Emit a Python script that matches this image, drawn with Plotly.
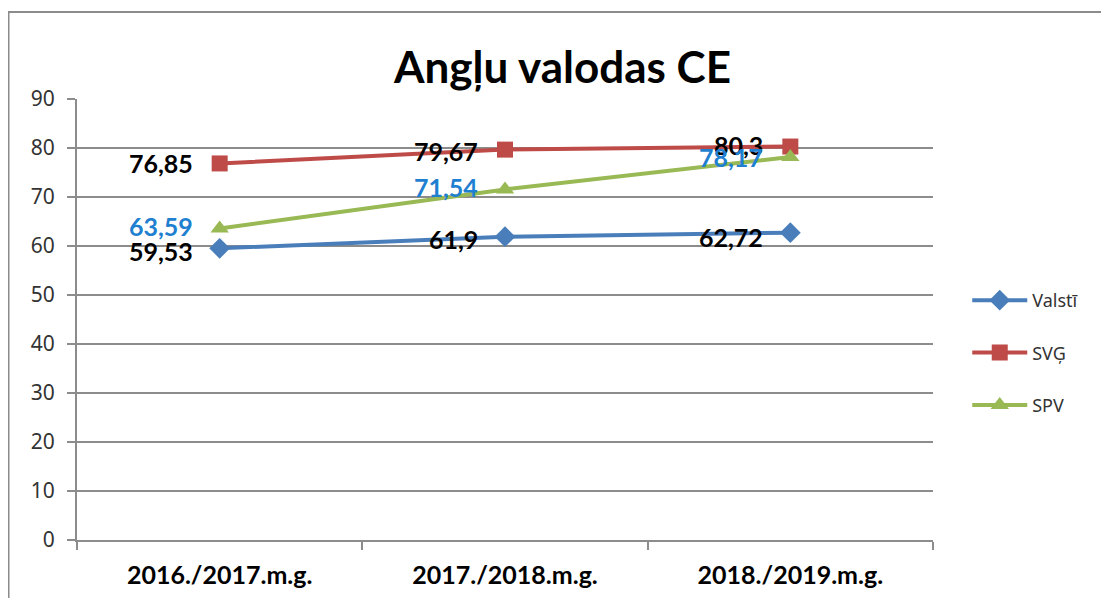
import plotly.graph_objects as go

categories = ["2016./2017.m.g.", "2017./2018.m.g.", "2018./2019.m.g."]
valsti = [59.53, 61.9, 62.72]
svg = [76.85, 79.67, 80.3]
spv = [63.59, 71.54, 78.17]
valsti_labels = ["59,53", "61,9", "62,72"]
svg_labels = ["76,85", "79,67", "80,3"]
spv_labels = ["63,59", "71,54", "78,17"]

BLUE = "#4a7ebb"
RED = "#be4b48"
GREEN = "#98b954"
LBLUE = "#1f7fd0"

fig = go.Figure()
series = [
    ("Valstī", valsti, BLUE, "diamond", 16),
    ("SVĢ", svg, RED, "square", 16),
    ("SPV", spv, GREEN, "triangle-up", 16),
]
for i, (name, vals, col, sym, sz) in enumerate(series):
    fig.add_trace(go.Scatter(
        x=categories, y=vals, name=name, mode="lines+markers",
        line=dict(color=col, width=4),
        marker=dict(symbol=sym, size=sz, color=col),
        legendgroup=f"g{i}",
    ))

label_sets = [
    (valsti, valsti_labels, "black", [-3, -2, -4]),
    (svg, svg_labels, "black", [0, -1, 2]),
    (spv, spv_labels, LBLUE, [2, 2, 0]),
]
for vals, labs, col, yshifts in label_sets:
    for c, v, t, ys in zip(categories, vals, labs, yshifts):
        fig.add_annotation(
            x=c, y=v, text=t, showarrow=False, xanchor="right", yanchor="middle",
            xshift=-25, yshift=ys,
            font=dict(family="Lato", size=25, color=col, weight="bold"),
        )

# outer chart border
fig.add_shape(type="rect", xref="paper", yref="paper",
              x0=-0.08, x1=1.35, y0=-0.25, y1=1.197,
              line=dict(color="#8c8c8c", width=2), fillcolor="rgba(0,0,0,0)", layer="below")

fig.update_layout(
    width=1109, height=598,
    margin=dict(l=69, r=184, t=91, b=66),
    paper_bgcolor="white", plot_bgcolor="white",
    title=dict(text="<b>Angļu valodas CE</b>", x=0.5, xanchor="center",
               y=0.9, yanchor="middle",
               font=dict(family="Lato", size=44, color="black")),
    showlegend=True,
    legend=dict(x=1.04, xanchor="left", y=0.585, yanchor="top",
                font=dict(family="Noto Sans", size=18, color="#333333"),
                itemwidth=55,
                tracegroupgap=26, bgcolor="rgba(0,0,0,0)"),
    xaxis=dict(type="category", range=[-0.5, 2.5], showgrid=False,
               showline=True, linecolor="#8c8c8c", linewidth=2,
               ticks="outside", tickson="boundaries", ticklen=8, tickcolor="#8c8c8c",
               tickwidth=1.5, ticklabelstandoff=12,
               tickfont=dict(family="Lato", size=25, color="black", weight="bold")),
    yaxis=dict(range=[0, 90], dtick=10, showgrid=True, gridcolor="#8c8c8c", gridwidth=1.5,
               showline=True, linecolor="#8c8c8c", linewidth=2,
               ticks="outside", ticklen=8, tickcolor="#8c8c8c", tickwidth=1.5,
               zeroline=False, ticklabelstandoff=8,
               tickfont=dict(family="Noto Sans", size=21, color="#333333")),
)

fig.write_html("out.html")
